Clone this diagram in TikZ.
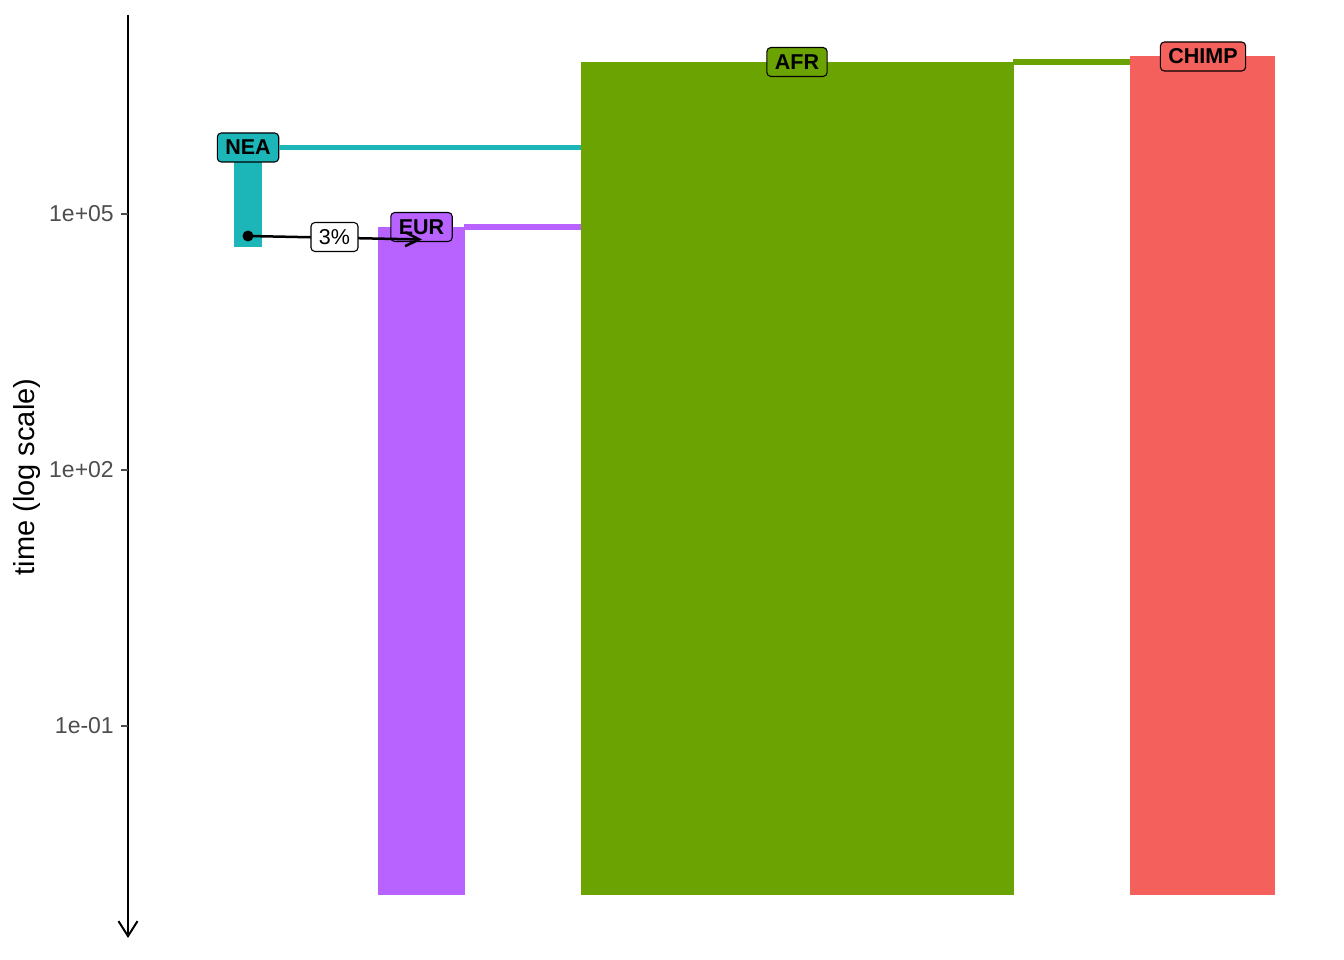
\documentclass[tikz,border=0pt]{standalone}
\usepackage{fontspec}
\setmainfont{Liberation Sans}
\usetikzlibrary{arrows.meta}
\definecolor{neacol}{HTML}{1CB5B8}
\definecolor{eurcol}{HTML}{B862FF}
\definecolor{afrcol}{HTML}{6BA402}
\definecolor{chimpcol}{HTML}{F4605B}
\definecolor{tickgray}{HTML}{4D4D4D}
\tikzset{
  bar/.style={rectangle, inner sep=0pt, outer sep=0pt, anchor=north west, draw=none},
  poplabel/.style={rectangle, rounded corners=4pt, draw=black, line width=1.1pt,
     font=\fontsize{21.5}{25}\selectfont\bfseries, inner xsep=8pt, inner ysep=7pt,
     text height=15pt, text depth=0pt},
  flowlabel/.style={rectangle, rounded corners=4pt, draw=black, line width=1.1pt, fill=white,
     font=\fontsize{21.5}{25}\selectfont, inner xsep=8pt, inner ysep=7pt,
     text height=15pt, text depth=0pt},
  branch/.style={line width=5.5pt},
  ticklabel/.style={anchor=east, text=tickgray, font=\fontsize{23}{27}\selectfont, inner sep=0pt},
  axisline/.style={line width=2pt, black},
}
\begin{document}
\begin{tikzpicture}[x=1pt,y=-1pt]
\useasboundingbox (0,0) rectangle (1344,960);
% bars
\node[bar, fill=neacol, minimum width=28pt, minimum height=99pt] (neabar) at (234,148) {};
\node[bar, fill=eurcol, minimum width=87pt, minimum height=668pt] (eurbar) at (378,227) {};
\node[bar, fill=afrcol, minimum width=433pt, minimum height=833pt] (afrbar) at (581,62) {};
\node[bar, fill=chimpcol, minimum width=145pt, minimum height=839pt] (chimpbar) at (1130,56) {};
% axis
\coordinate (axtop) at (128,15);
\coordinate (axbot) at (128,938);
\draw[axisline, -{Straight Barb[length=15pt,width=19pt,line width=2pt]}] (axtop) -- (axbot);
\foreach \yy/\lab/\nm in {214/1e+05/t1, 470/1e+02/t2, 726/1e-01/t3} {
  \coordinate (\nm a) at (121,\yy);
  \coordinate (\nm b) at (128,\yy);
  \draw[line width=2pt, tickgray] (\nm a) -- (\nm b);
  \node[ticklabel] (\nm l) at (114,\yy) {\lab};
}
\node[rotate=90, font=\fontsize{29}{33}\selectfont, inner sep=0pt] (ytitle) at (27,477) {time (log scale)};
% branch connectors
\coordinate (eurstart) at (464,227);
\coordinate (afrstart) at (1013,62);
\draw[branch, eurcol] (eurstart) -- (afrbar.west |- eurstart);
\draw[branch, afrcol] (afrstart) -- (chimpbar.west |- afrstart);
% labels
\node[poplabel, fill=neacol] (nea) at (248,147.5) {NEA};
\node[poplabel, fill=eurcol] (eur) at (421.5,227) {EUR};
\node[poplabel, fill=afrcol] (afr) at (797,62) {AFR};
\node[poplabel, fill=chimpcol] (chimp) at (1203,56.5) {CHIMP};
\draw[branch, neacol] (nea.east) -- (afrbar.west |- nea.east);
% gene flow
\coordinate (gfsrc) at (248,236);
\coordinate (gfdst) at (422,239.5);
\fill (gfsrc) circle (5.5pt);
\draw[line width=2.5pt, -{Straight Barb[length=14pt,width=14pt,line width=2.5pt]}] (gfsrc) -- (gfdst);
\node[flowlabel] (gf) at (334.5,237) {3\%};
\end{tikzpicture}
\end{document}
